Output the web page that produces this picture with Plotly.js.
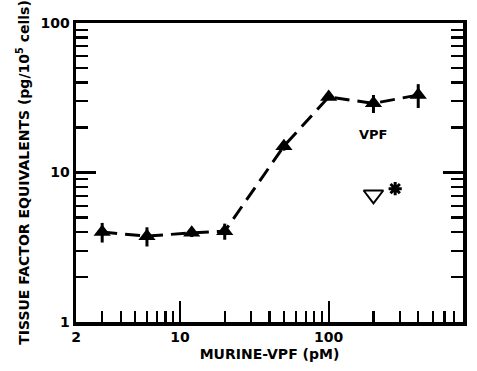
<!DOCTYPE html>
<html><head><meta charset="utf-8">
<script src="https://cdn.plot.ly/plotly-3.0.1.min.js"></script>
<style>html,body{margin:0;padding:0;background:#fff}#c{width:477px;height:371px}</style>
</head><body><div id="c"></div>
<script>
// data
const vpfDose = [3, 6, 12, 20, 50, 100, 200, 400];          // pM
const tfEquiv = [4.0, 3.75, 3.95, 4.05, 15, 32, 29, 33];     // pg/10^5 cells
const tfErr   = [0.6, 0.55, 0.25, 0.5, 1.0, 1.0, 4, 6];
const ctrlDose = [200];
const ctrlTF   = [7.1];
const starDose = [280];
const starTF   = [7.8];
const xTickVals = [2, 10, 100, 800];
const xTickText = ['2', '10', '100', '800'];
const xMinor = [3,4,5,6,7,8,9,20,30,40,50,60,70,80,90,200,300,400,500,600,700];
const yTickVals = [1, 10, 100];
const yTickText = ['1', '10', '100'];
const yMinor = [2,3,4,5,6,7,8,9,20,30,40,50,60,70,80,90];
const labelText = 'VPF';
const labelPos = [200, 18];

const F = 'DejaVu Sans, sans-serif';

const traces = [
  {x: vpfDose, y: tfEquiv, type: 'scatter', mode: 'lines+markers',
   line: {color: '#000', width: 3, dash: '15px,8px'},
   marker: {symbol: 'triangle-up', size: 15, color: '#000'},
   error_y: {type: 'data', array: tfErr, visible: true, color: '#000', thickness: 3, width: 0},
   showlegend: false, hoverinfo: 'none'},
  {x: ctrlDose, y: ctrlTF, type: 'scatter', mode: 'markers',
   marker: {symbol: 'triangle-down-open', size: 17, color: '#000', line: {width: 2, color: '#000'}},
   showlegend: false, hoverinfo: 'none'},
  {x: starDose, y: starTF, type: 'scatter', mode: 'markers',
   marker: {symbol: 'asterisk-open', size: 11, color: '#000', line: {width: 3, color: '#000'}},
   showlegend: false, hoverinfo: 'none'},
  {x: [], y: [], xaxis: 'x', yaxis: 'y2', type: 'scatter', mode: 'markers', showlegend: false, hoverinfo: 'none'}
];

const yCommon = {
  type: 'log', range: [0, 2],
  showgrid: false, zeroline: false,
  showline: true, linecolor: '#000', linewidth: 3.5,
  tickmode: 'array', tickvals: yTickVals, ticktext: yTickText,
  ticks: 'inside', ticklen: 20, tickwidth: 2.2, tickcolor: '#000',
  tickfont: {family: F, size: 14, weight: 'bold'},
  minor: {tickmode: 'array', tickvals: yMinor, ticks: 'inside', ticklen: 12, tickwidth: 2.2, tickcolor: '#000', showgrid: false}
};

const layout = {
  width: 477, height: 371,
  margin: {l: 76, r: 14, t: 23, b: 49},
  paper_bgcolor: '#fff', plot_bgcolor: '#fff',
  font: {family: F, color: '#000', size: 13, weight: 'bold'},
  xaxis: {
    type: 'log', range: [Math.log10(2), Math.log10(800)],
    showgrid: false, zeroline: false,
    showline: true, linecolor: '#000', linewidth: 3.5, mirror: true,
    tickmode: 'array', tickvals: xTickVals, ticktext: xTickText,
    ticks: 'inside', ticklen: 21, tickwidth: 2.2, tickcolor: '#000',
    tickfont: {family: F, size: 14, weight: 'bold'},
    minor: {tickmode: 'array', tickvals: xMinor, ticks: 'inside', ticklen: 11, tickwidth: 2.2, tickcolor: '#000', showgrid: false},
    title: {text: 'MURINE-VPF (pM)', font: {family: F, size: 14, weight: 'bold'}, standoff: 6}
  },
  yaxis: Object.assign({}, yCommon, {
    title: {text: 'TISSUE FACTOR EQUIVALENTS (pg/10<sup>5</sup> cells)', font: {family: F, size: 14, weight: 'bold'}, standoff: 8}
  }),
  yaxis2: Object.assign({}, yCommon, {overlaying: 'y', side: 'right', anchor: 'x', showticklabels: false}),
  annotations: [
    {x: Math.log10(labelPos[0]), y: Math.log10(labelPos[1]), xref: 'x', yref: 'y',
     text: labelText, showarrow: false, font: {family: F, size: 13, weight: 'bold'}}
  ]
};

Plotly.newPlot('c', traces, layout, {staticPlot: true, displayModeBar: false});
</script>
</body></html>
